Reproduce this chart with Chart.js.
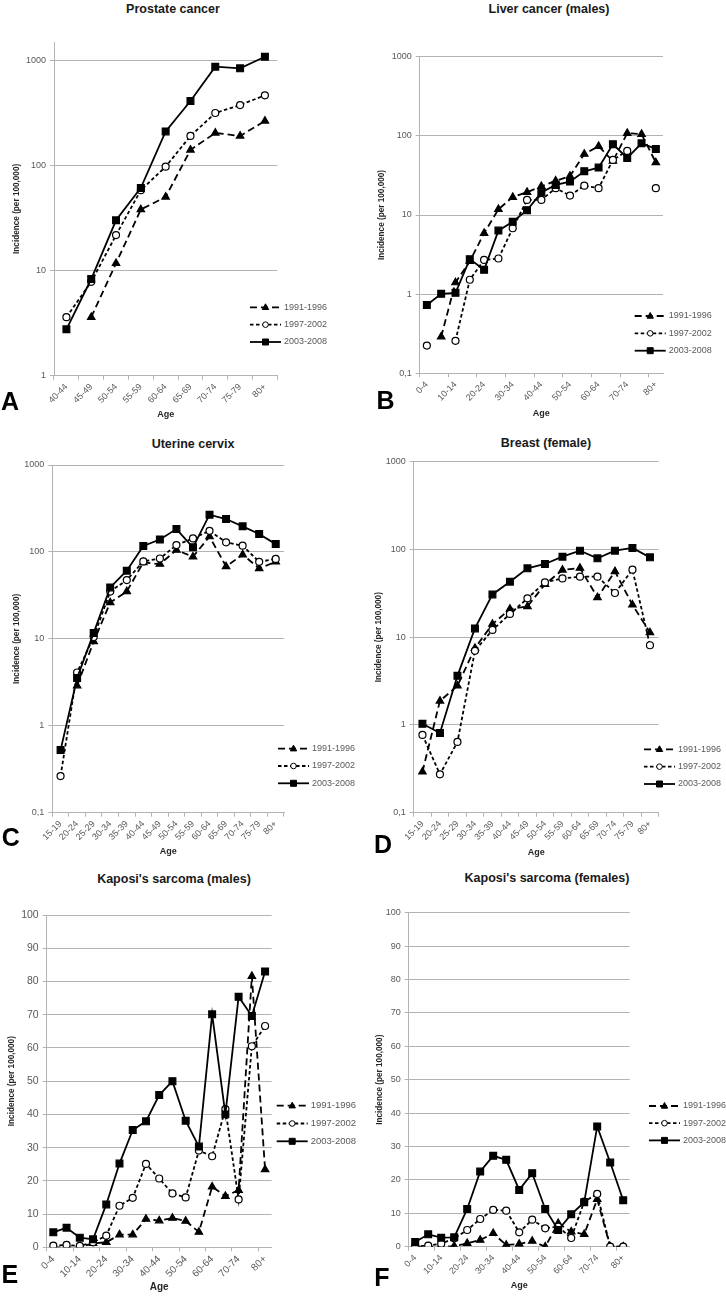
<!DOCTYPE html>
<html>
<head>
<meta charset="utf-8">
<script src="https://cdn.jsdelivr.net/npm/chart.js@4.4.1/dist/chart.umd.min.js"></script>
<style>
  body { margin: 0; background: #fff; width: 726px; height: 1296px; position: relative; overflow: hidden;
         font-family: "Liberation Sans", Arial, sans-serif; }
  canvas { position: absolute; }
  .title { position: absolute; font-weight: bold; font-size: 12.5px; color: #1a1a1a;
           transform: translate(-50%, -50%); white-space: nowrap; }
  .letter { position: absolute; font-weight: bold; font-size: 25px; line-height: 25px; color: #000; }
</style>
</head>
<body>

<div class="title" style="left:173px;top:8.5px">Prostate cancer</div>
<div class="title" style="left:549px;top:8.5px">Liver cancer (males)</div>
<div class="title" style="left:193px;top:443.5px">Uterine cervix</div>
<div class="title" style="left:546px;top:443px">Breast (female)</div>
<div class="title" style="left:174px;top:878.5px">Kaposi's sarcoma (males)</div>
<div class="title" style="left:547px;top:877.5px">Kaposi's sarcoma (females)</div>

<canvas id="cA" width="363" height="430" style="left:0;top:0"></canvas>
<canvas id="cB" width="363" height="430" style="left:363px;top:0"></canvas>
<canvas id="cC" width="363" height="430" style="left:0;top:430px"></canvas>
<canvas id="cD" width="363" height="430" style="left:363px;top:430px"></canvas>
<canvas id="cE" width="363" height="436" style="left:0;top:860px"></canvas>
<canvas id="cF" width="363" height="436" style="left:363px;top:860px"></canvas>

<div class="letter" style="left:1px;top:389.4px">A</div>
<div class="letter" style="left:376.5px;top:388.4px">B</div>
<div class="letter" style="left:1.7px;top:824.7px">C</div>
<div class="letter" style="left:374px;top:831.7px">D</div>
<div class="letter" style="left:1.5px;top:1261.7px">E</div>
<div class="letter" style="left:374.2px;top:1265px">F</div>

<script>
// Age groups
const agesA = ['40-44', '45-49', '50-54', '55-59', '60-64', '65-69', '70-74', '75-79', '80+'];
const ages14 = ['15-19', '20-24', '25-29', '30-34', '35-39', '40-44', '45-49', '50-54',
                '55-59', '60-64', '65-69', '70-74', '75-79', '80+'];
const ages17 = ['0-4', '5-9', '10-14', '15-19', '20-24', '25-29', '30-34', '35-39', '40-44',
                '45-49', '50-54', '55-59', '60-64', '65-69', '70-74', '75-79', '80+'];

const periods = ['1991-1996', '1997-2002', '2003-2008'];

// A - Prostate cancer
const prostate91 = [null, 3.6, 11.7, 38, 50, 140, 203, 190, 264];
const prostate97 = [3.6, 7.8, 21.7, 58, 97, 190, 314, 374, 463];
const prostate03 = [2.76, 8.3, 30, 61, 210, 408, 865, 835, 1077];

// B - Liver cancer (males)
const liver91 = [null, 0.29, 1.4, 2.6, 5.9, 11.8, 16.8, 19.4, 23, 27, 31, 59, 74, 48, 108, 105, 46];
const liver97 = [0.224, null, 0.257, 1.52, 2.71, 2.82, 6.8, 15.5, 15.5, 21.8, 17.6, 23.5, 21.8, 49.6, 64.5, null, 21.8];
const liver03 = [0.73, 1.01, 1.04, 2.77, 2.03, 6.35, 8.2, 11.5, 19.2, 24, 26.4, 35.7, 39.7, 78.3, 52.6, 80.5, 68.4];

// C - Uterine cervix
const cervix91 = [null, 2.89, 9.3, 26.2, 35.1, 75.7, 72.5, 105, 88, 150, 68, 93, 64.6, 77];
const cervix97 = [0.264, 4.1, 10.5, 35, 47.5, 77.8, 84, 120, 143, 175, 129, 118, 77, 83];
const cervix03 = [0.525, 3.54, 11.7, 39, 60.8, 117, 139, 183, 113, 268, 239, 197, 161, 123];

// D - Breast (female)
const breast91 = [0.293, 1.88, 2.79, 7.5, 14.1, 20.9, 22.4, 40, 58.4, 61.5, 28.4, 56.2, 23.4, 11.3];
const breast97 = [0.77, 0.274, 0.64, 7.0, 12.1, 18.4, 27.7, 42.1, 46.8, 48.9, 48.9, 31.9, 58.8, 8.1];
const breast03 = [1.03, 0.81, 3.63, 12.6, 30.7, 42.9, 60.9, 68.3, 82.7, 96.9, 79.2, 96.9, 104, 81.3];

// E - Kaposi's sarcoma (males)
const kaposiM91 = [0, 0, 0, 1.2, 1.5, 3.8, 3.8, 8.5, 8.0, 8.8, 7.9, 4.6, 18.2, 15.4, 17.2, 81.6, 23.4];
const kaposiM97 = [0.5, 0.7, 0.4, 1.5, 3.5, 12.5, 14.9, 25.1, 20.7, 16.2, 15, 29.1, 27.4, 41.6, 14.4, 60.5, 66.6];
const kaposiM03 = [4.5, 5.9, 2.9, 2.4, 12.9, 25.2, 35.3, 37.9, 45.8, 50, 38.1, 30.3, 70.1, 40, 75.4, 69.6, 83];

// F - Kaposi's sarcoma (females)
const kaposiF91 = [0, 0, 0, 0.2, 1, 2, 4, 0.5, 0.8, 1.7, 0, 7, 4.5, 3.7, 14.2, 0, 0];
const kaposiF97 = [0.2, 0.3, 0.9, 2.5, 5, 8.3, 11, 10.8, 4.3, 8.1, 5.5, 6, 2.6, 13.5, 15.8, 0, 0];
const kaposiF03 = [1.4, 3.7, 2.7, 2.8, 11.3, 22.5, 27.2, 26, 17, 22, 11.3, 5, 9.7, 13.3, 36, 25.2, 13.9];

// y axis tick values
const logTicksA = [1, 10, 100, 1000];
const logTicks = [0.1, 1, 10, 100, 1000];
const linTicks = [0, 10, 20, 30, 40, 50, 60, 70, 80, 90, 100];

Chart.defaults.font.family = '"Liberation Sans", Arial, sans-serif';

const GRID = '#b3b3b3';
const TICK_TEXT = '#595959';

// line / marker look per period
const looks = [
  { dash: [7, 4], point: 'triangle', radius: 4.3, fill: '#000' },
  { dash: [3.5, 2.5], point: 'circle', radius: 3.5, fill: '#fff' },
  { dash: [], point: 'rect', radius: 4.8, fill: '#000' }
];

// small marker drawing for the legend
function legendMarker(ctx, kind, x, y, fill) {
  ctx.fillStyle = fill;
  ctx.strokeStyle = '#000';
  ctx.lineWidth = 1;
  ctx.beginPath();
  if (kind === 'triangle') {
    ctx.moveTo(x, y - 3.5);
    ctx.lineTo(x + 3.2, y + 2.2);
    ctx.lineTo(x - 3.2, y + 2.2);
    ctx.closePath();
  } else if (kind === 'circle') {
    ctx.arc(x, y, 2.8, 0, Math.PI * 2);
  } else {
    ctx.rect(x - 3, y - 3, 6, 6);
  }
  ctx.fill();
  ctx.stroke();
}

// legend drawn beside the plot, like the original figure
const sideLegend = {
  id: 'sideLegend',
  afterDraw(chart, args, opts) {
    const ctx = chart.ctx;
    ctx.save();
    chart.data.datasets.forEach((ds, k) => {
      const y = opts.y + k * opts.dy;
      ctx.strokeStyle = '#000';
      ctx.lineWidth = 1.8;
      ctx.setLineDash(looks[k].dash);
      ctx.beginPath();
      ctx.moveTo(opts.x, y);
      ctx.lineTo(opts.x + 31, y);
      ctx.stroke();
      ctx.setLineDash([]);
      legendMarker(ctx, looks[k].point, opts.x + 15.5, y, looks[k].fill);
      ctx.fillStyle = TICK_TEXT;
      ctx.font = opts.font + 'px "Liberation Sans", Arial, sans-serif';
      ctx.textBaseline = 'middle';
      ctx.textAlign = 'left';
      ctx.fillText(ds.label, opts.x + 34, y);
    });
    ctx.restore();
  }
};

const panels = [
  { canvas: 'cA', labels: agesA, series: [prostate91, prostate97, prostate03], log: true, min: 1, max: 1486,
    yTicks: logTicksA, skip: false, area: { l: 54, t: 42, r: 85.7, b: 54.3 }, yPad: 11.7, xPad: 9.6,
    legend: { x: 250, y: 307.3, dy: 17.35, font: 9 }, tickFont: 9, yFont: 9, ageFont: 9 },
  { canvas: 'cB', labels: ages17, series: [liver91, liver97, liver03], log: true, min: 0.1, max: 1000,
    yTicks: logTicks, skip: true, area: { l: 56.7, t: 56.7, r: 63, b: 56.7 }, yPad: 13.5, xPad: 11.3,
    legend: { x: 271.7, y: 316, dy: 17.35, font: 9 }, tickFont: 9, yFont: 9, ageFont: 9 },
  { canvas: 'cC', labels: ages14, series: [cervix91, cervix97, cervix03], log: true, min: 0.1, max: 1000,
    yTicks: logTicks, skip: false, area: { l: 52.3, t: 35, r: 79, b: 47.3 }, yPad: 12.2, xPad: 2.9,
    legend: { x: 278, y: 318.7, dy: 17.3, font: 9 }, tickFont: 9, yFont: 9, ageFont: 9 },
  { canvas: 'cD', labels: ages14, series: [breast91, breast97, breast03], log: true, min: 0.1, max: 1000,
    yTicks: logTicks, skip: false, area: { l: 50.7, t: 31.7, r: 67.3, b: 47.3 }, yPad: 11, xPad: 1.9,
    legend: { x: 281, y: 319.3, dy: 17.35, font: 9 }, tickFont: 9, yFont: 9, ageFont: 9 },
  { canvas: 'cE', labels: ages17, series: [kaposiM91, kaposiM97, kaposiM03], log: false, min: 0, max: 100,
    yTicks: linTicks, skip: true, area: { l: 46.7, t: 55, r: 91.3, b: 48.7 }, yPad: 6.9, xPad: 2.3,
    legend: { x: 276.7, y: 245.7, dy: 17.8, font: 9.5 }, tickFont: 10, yFont: 10.5, ageFont: 10 },
  { canvas: 'cF', labels: ages17, series: [kaposiF91, kaposiF97, kaposiF03], log: false, min: 0, max: 100,
    yTicks: linTicks, skip: true, area: { l: 45.7, t: 52.7, r: 96.3, b: 49.3 }, yPad: 11.9, xPad: 4.6,
    legend: { x: 286, y: 246, dy: 17.2, font: 9 }, tickFont: 9, yFont: 9, ageFont: 9 }
];

panels.forEach(p => {
  const ctx = document.getElementById(p.canvas).getContext('2d');
  new Chart(ctx, {
    type: 'line',
    data: {
      labels: p.labels,
      datasets: p.series.map((values, k) => ({
        label: periods[k],
        data: values,
        order: 2 - k,
        borderColor: '#000',
        borderWidth: 1.8,
        borderDash: looks[k].dash,
        pointStyle: looks[k].point,
        pointRadius: looks[k].radius,
        pointBackgroundColor: looks[k].fill,
        pointBorderColor: '#000',
        pointBorderWidth: 1.2,
        tension: 0,
        fill: false,
        spanGaps: false
      }))
    },
    options: {
      responsive: false,
      animation: false,
      layout: { padding: { left: 0, top: p.area.t, right: p.area.r, bottom: 0 } },
      plugins: {
        legend: { display: false },
        tooltip: { enabled: false },
        sideLegend: p.legend
      },
      scales: {
        x: {
          type: 'category',
          offset: true,
          afterFit: s => { s.height = p.area.b; },
          grid: {
            drawOnChartArea: false,
            offset: true,
            tickLength: 4,
            color: p.skip ? (c => (c.index !== undefined && c.index % 2 === 0) ? GRID : 'rgba(0,0,0,0)') : GRID
          },
          border: { color: GRID, width: 1 },
          ticks: {
            autoSkip: false,
            minRotation: 45,
            maxRotation: 45,
            padding: 2,
            color: TICK_TEXT,
            font: { size: p.tickFont },
            callback: function (v, i) { return (p.skip && i % 2) ? '' : this.getLabelForValue(v); }
          },
          title: {
            display: true, text: 'Age', color: '#262626',
            font: { size: p.ageFont, weight: 'bold' },
            padding: { top: 0, bottom: p.xPad }
          }
        },
        y: {
          type: p.log ? 'logarithmic' : 'linear',
          min: p.min,
          max: p.max,
          afterBuildTicks: s => { s.ticks = p.yTicks.map(v => ({ value: v })); },
          afterFit: s => { s.width = p.area.l; },
          grid: { color: GRID, lineWidth: 1, tickLength: 4 },
          border: { color: GRID, width: 1 },
          ticks: {
            padding: 4,
            color: TICK_TEXT,
            font: { size: p.yFont },
            callback: v => String(v).replace('.', ',')
          },
          title: {
            display: true, text: 'Incidence (per 100,000)', color: '#262626',
            font: { size: 8.2, weight: 'bold' },
            padding: { top: p.yPad, bottom: 0 }
          }
        }
      }
    },
    plugins: [sideLegend]
  });
});
</script>
</body>
</html>
